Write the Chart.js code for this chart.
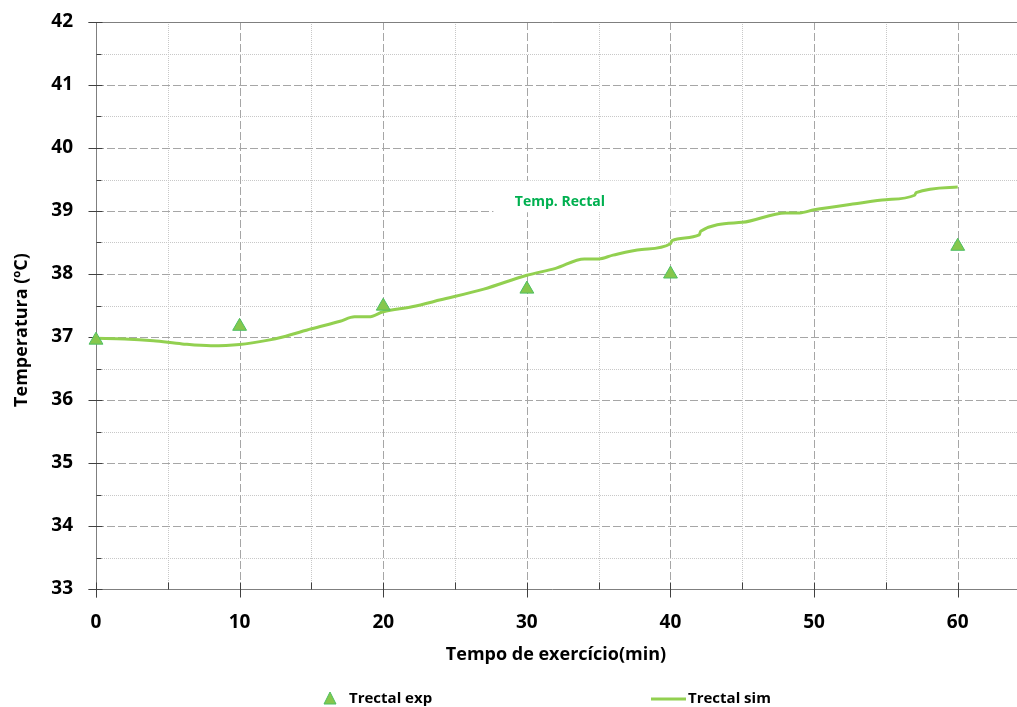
<!DOCTYPE html>
<html>
<head>
<meta charset="utf-8">
<title>Temp. Rectal</title>
<script src="https://cdn.jsdelivr.net/npm/chart.js@4.4.0/dist/chart.umd.min.js"></script>
<style>
    html, body { margin: 0; padding: 0; background: #ffffff; overflow: hidden; }
    canvas { display: block; }
</style>
</head>
<body>
<canvas id="chart" width="1017" height="707"></canvas>
<script>
// --- Data ---
const expTimes = [0, 10, 20, 30, 40, 60];
const expTemps = [36.95, 37.17, 37.49, 37.76, 38.0, 38.44];

const simTimes = [0, 2, 4, 6, 8, 10, 12, 13, 15, 17, 18, 19, 20, 22, 24, 27, 30, 32, 34, 35,
    36, 38, 40, 40.1, 42, 42.1, 45, 48, 49, 50, 53, 55, 57, 57.1, 60];
const simTemps = [36.98, 36.97, 36.94, 36.89, 36.86, 36.88, 36.95, 37.0, 37.13, 37.25, 37.32, 37.32,
    37.40, 37.48, 37.59, 37.76, 37.98, 38.09, 38.24, 38.24, 38.30, 38.39, 38.48, 38.53, 38.62, 38.68,
    38.82, 38.97, 38.97, 39.02, 39.12, 39.18, 39.25, 39.29, 39.38];

const xTicks = [0, 10, 20, 30, 40, 50, 60];
const yTicks = [33, 34, 35, 36, 37, 38, 39, 40, 41, 42];

const FONT = '"Open Sans", "DejaVu Sans", sans-serif';
const AXIS_COLOR = '#7f7f7f';
const GRID_COLOR = '#a6a6a6';
const MINOR_COLOR = '#c8c8c8';
const LINE_COLOR = '#92D050';
const LABEL_COLOR = '#00B050';

// --- Grid, axes, annotation, titles and legend drawn by hand ---
const decorPlugin = {
    id: 'decor',
    beforeDatasetsDraw(chart) {
        const { ctx, chartArea: a, scales: { x, y } } = chart;
        const right = chart.width; // plot runs off the right edge in the original
        ctx.save();

        // minor gridlines (dotted)
        ctx.strokeStyle = MINOR_COLOR;
        ctx.lineWidth = 1;
        ctx.setLineDash([1, 1]);
        for (let v = 5; v <= 64; v += 10) {
            const px = Math.round(x.getPixelForValue(v)) + 0.5;
            ctx.beginPath(); ctx.moveTo(px, a.top); ctx.lineTo(px, a.bottom); ctx.stroke();
        }
        for (let v = 33.5; v < 42; v += 1) {
            const py = Math.round(y.getPixelForValue(v)) + 0.5;
            ctx.beginPath(); ctx.moveTo(a.left, py); ctx.lineTo(right, py); ctx.stroke();
        }

        // major gridlines (dashed)
        ctx.strokeStyle = GRID_COLOR;
        ctx.setLineDash([8, 3]);
        xTicks.slice(1).forEach(v => {
            const px = Math.round(x.getPixelForValue(v)) + 0.5;
            ctx.beginPath(); ctx.moveTo(px, a.top); ctx.lineTo(px, a.bottom); ctx.stroke();
        });
        yTicks.slice(1, -1).forEach(v => {
            const py = Math.round(y.getPixelForValue(v)) + 0.5;
            ctx.beginPath(); ctx.moveTo(a.left, py); ctx.lineTo(right, py); ctx.stroke();
        });
        ctx.setLineDash([]);

        // annotation box + text
        const bx1 = x.getPixelForValue(27.67), bx2 = x.getPixelForValue(40.0);
        const by1 = y.getPixelForValue(39.48), by2 = y.getPixelForValue(38.98);
        ctx.fillStyle = '#ffffff';
        ctx.fillRect(bx1, by1, bx2 - bx1, by2 - by1);
        ctx.fillStyle = LABEL_COLOR;
        ctx.font = 'bold 14px ' + FONT;
        ctx.textAlign = 'center';
        ctx.textBaseline = 'middle';
        ctx.fillText('Temp. Rectal', x.getPixelForValue(32.3), y.getPixelForValue(39.15));

        // axis lines
        ctx.strokeStyle = AXIS_COLOR;
        ctx.lineWidth = 1;
        const left = Math.round(a.left) + 0.5, bottom = Math.round(a.bottom) + 0.5, top = Math.round(a.top) + 0.5;
        ctx.beginPath(); ctx.moveTo(left - 8, top); ctx.lineTo(right, top); ctx.stroke();
        ctx.beginPath(); ctx.moveTo(left, top); ctx.lineTo(left, bottom + 8); ctx.stroke();
        ctx.beginPath(); ctx.moveTo(left - 8, bottom); ctx.lineTo(right, bottom); ctx.stroke();

        // tick marks
        ctx.strokeStyle = '#404040';
        yTicks.forEach(v => {
            const py = Math.round(y.getPixelForValue(v)) + 0.5;
            ctx.beginPath(); ctx.moveTo(left - 8, py); ctx.lineTo(left + 6, py); ctx.stroke();
        });
        for (let v = 33.5; v < 42; v += 1) {
            const py = Math.round(y.getPixelForValue(v)) + 0.5;
            ctx.beginPath(); ctx.moveTo(left, py); ctx.lineTo(left + 5, py); ctx.stroke();
        }
        xTicks.forEach(v => {
            const px = Math.round(x.getPixelForValue(v)) + 0.5;
            ctx.beginPath(); ctx.moveTo(px, bottom - 7); ctx.lineTo(px, bottom + 8); ctx.stroke();
        });
        for (let v = 5; v <= 64; v += 10) {
            const px = Math.round(x.getPixelForValue(v)) + 0.5;
            ctx.beginPath(); ctx.moveTo(px, bottom - 7); ctx.lineTo(px, bottom); ctx.stroke();
        }
        ctx.restore();
    },
    afterDraw(chart) {
        const { ctx } = chart;
        ctx.save();
        ctx.fillStyle = '#000000';
        ctx.font = 'bold 18px ' + FONT;
        ctx.textAlign = 'center';
        ctx.textBaseline = 'middle';

        // axis titles
        ctx.fillText('Tempo de exercício(min)', 556, 655);
        ctx.save();
        ctx.translate(22, 330);
        ctx.rotate(-Math.PI / 2);
        ctx.fillText('Temperatura (ºC)', 0, 0);
        ctx.restore();

        // legend
        const exp = chart.data.datasets[0];
        ctx.beginPath();
        ctx.moveTo(330, 692); ctx.lineTo(336, 704); ctx.lineTo(324, 704); ctx.closePath();
        ctx.fillStyle = exp.backgroundColor;
        ctx.fill();
        ctx.strokeStyle = exp.borderColor;
        ctx.lineWidth = 1;
        ctx.stroke();
        ctx.strokeStyle = LINE_COLOR;
        ctx.lineWidth = 3;
        ctx.beginPath(); ctx.moveTo(651, 699); ctx.lineTo(686, 699); ctx.stroke();

        ctx.fillStyle = '#000000';
        ctx.font = 'bold 15px ' + FONT;
        ctx.textAlign = 'left';
        ctx.fillText('Trectal exp', 349, 699);
        ctx.fillText('Trectal sim', 688, 699);
        ctx.restore();
    }
};

const ctx = document.getElementById('chart');
new Chart(ctx, {
    type: 'scatter',
    data: {
        datasets: [
            {
                label: 'Trectal exp',
                data: expTimes.map((t, i) => ({ x: t, y: expTemps[i] })),
                pointStyle: 'triangle',
                pointRadius: 8,
                backgroundColor: '#86C74C',
                borderColor: '#4DBF62',
                borderWidth: 1,
                clip: false,
                order: 0
            },
            {
                label: 'Trectal sim',
                data: simTimes.map((t, i) => ({ x: t, y: simTemps[i] })),
                showLine: true,
                pointRadius: 0,
                borderColor: LINE_COLOR,
                borderWidth: 3,
                cubicInterpolationMode: 'monotone',
                clip: false,
                order: 1
            }
        ]
    },
    options: {
        responsive: false,
        animation: false,
        layout: { padding: { top: 22, right: 0, bottom: 0, left: 0 } },
        plugins: {
            legend: { display: false },
            tooltip: { enabled: false }
        },
        scales: {
            x: {
                type: 'linear',
                min: 0,
                max: 63.5,
                grid: { display: false, drawTicks: false },
                border: { display: false },
                afterBuildTicks: scale => { scale.ticks = xTicks.map(v => ({ value: v })); },
                afterFit: scale => {
                    scale.height = 118;
                    scale.paddingLeft = 0;
                    scale.paddingRight = 0;
                },
                ticks: {
                    padding: 22,
                    color: '#000000',
                    font: { family: FONT, size: 19, weight: 'bold' },
                    maxRotation: 0
                }
            },
            y: {
                min: 33,
                max: 42,
                grid: { display: false, drawTicks: false },
                border: { display: false },
                afterBuildTicks: scale => { scale.ticks = yTicks.map(v => ({ value: v })); },
                afterFit: scale => {
                    scale.width = 96;
                    scale.paddingTop = 0;
                    scale.paddingBottom = 0;
                },
                ticks: {
                    padding: 23,
                    color: '#000000',
                    font: { family: FONT, size: 19, weight: 'bold' }
                }
            }
        }
    },
    plugins: [decorPlugin]
});
</script>
</body>
</html>
